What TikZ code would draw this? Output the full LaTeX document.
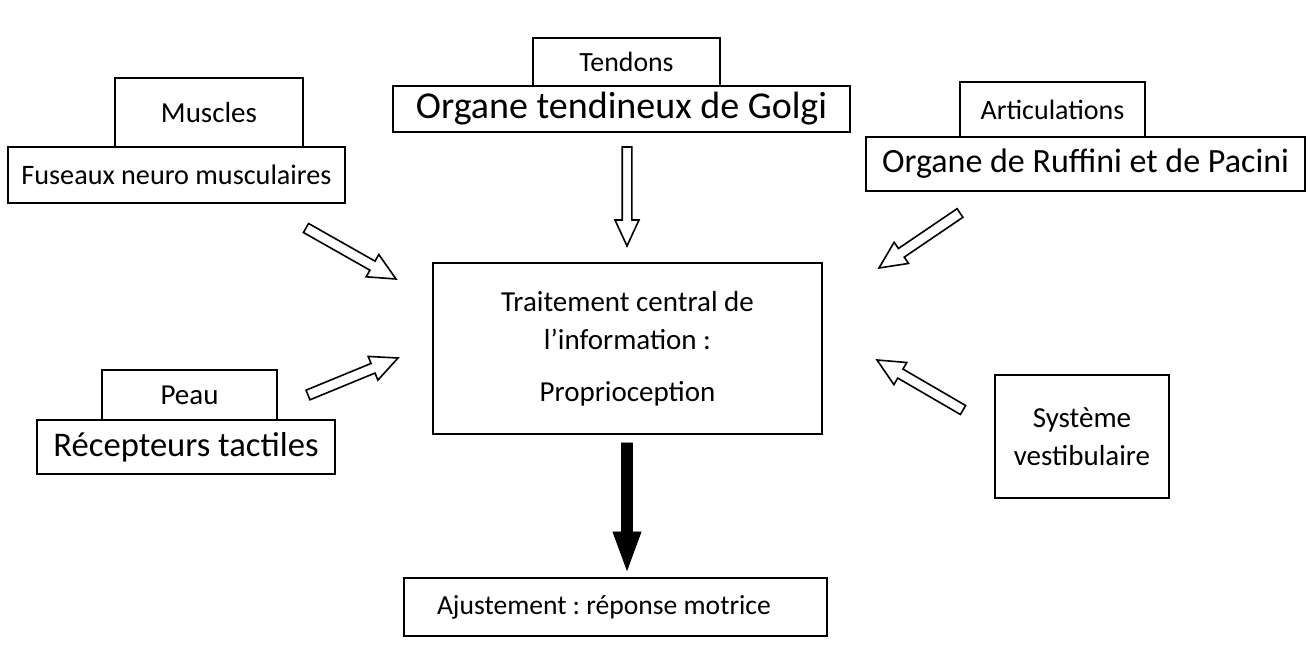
\documentclass[tikz,border=0pt]{standalone}
\usepackage{fontspec}
\setmainfont{Carlito}
\usetikzlibrary{calc}
\tikzset{
  box/.style={draw=black, line width=0.8pt, rectangle, inner sep=0pt, align=center,
    font=\fontsize{14.4}{19}\selectfont\frenchspacing},
  fs/.style={font=\fontsize{#1}{19}\selectfont\frenchspacing},
  hollow/.style={draw=black, fill=white, line width=0.8pt, line join=miter},
  solidarrow/.style={draw=black, fill=black, line width=0.4pt}
}
\newcommand\blockarrow[6]{% style, tail, tip, half shaft, half head, head length
  \coordinate (hb) at ($(#3)!#6!(#2)$);
  \draw[#1] ($(#2)!#4!90:(#3)$) -- ($(hb)!#4!90:(#3)$) -- ($(hb)!#5!90:(#3)$) -- (#3)
    -- ($(hb)!#5!-90:(#3)$) -- ($(hb)!#4!-90:(#3)$) -- ($(#2)!#4!-90:(#3)$) -- cycle;}
\begin{document}
\begin{tikzpicture}[x=0.5pt,y=-0.5pt]
\useasboundingbox (0,0) rectangle (1314,651);
\fill[white] (0,0) rectangle (1314,651);
% Muscles
\node[box, fs=14.5, minimum width=94pt, minimum height=34.5pt] (muscles) at (209,112.5) {Muscles};
\node[box, fs=14.1, fill=white, minimum width=168.5pt, minimum height=28pt] (fuseaux) at (176.5,175) {Fuseaux neuro musculaires};
% Tendons
\node[box, fs=13.9, minimum width=93.5pt, minimum height=24pt] (tendons) at (626.5,62) {Tendons};
\node[box, fs=19, fill=white, minimum width=228.5pt, minimum height=23pt] (golgi) at (621.5,109) {Organe tendineux de Golgi};
% Articulations
\node[box, fs=14, minimum width=92.5pt, minimum height=27.5pt] (artic) at (1052.5,109.5) {Articulations};
\node[box, fs=17, fill=white, minimum width=219.5pt, minimum height=27pt] (ruffini) at (1085.5,164) {Organe de Ruffini et de Pacini};
% Peau
\node[box, fs=14.5, minimum width=87.5pt, minimum height=25pt] (peau) at (189.5,395) {Peau};
\node[box, fs=17.3, fill=white, minimum width=149pt, minimum height=27pt] (recept) at (186,447) {Récepteurs tactiles};
% Vestibulaire
\node[box, fs=14.5, minimum width=87pt, minimum height=61.5pt] (vestib) at (1082,436.5) {Système\\vestibulaire};
% Central
\node[box, fs=14.5, minimum width=194.5pt, minimum height=85.5pt] (central) at (627.5,348.5) {Traitement central de\\l’information :\\[7pt]Proprioception};
% Ajustement
\node[box, fs=13.8, minimum height=29pt, inner xsep=16.5pt] (ajust) at (615.5,607) {\makebox[178.5pt][l]{Ajustement : réponse motrice}};
% arrows
\coordinate (mT) at (306,228); \coordinate (mH) at (396,279);
\coordinate (pT) at (308,395); \coordinate (pH) at (398,358);
\coordinate (aT) at (960,213); \coordinate (aH) at (879,268);
\coordinate (vT) at (963,410); \coordinate (vH) at (877,360);
\coordinate (gT) at (627,147); \coordinate (gH) at (627,246);
\coordinate (cT) at (627,443); \coordinate (cH) at (627,570);
\blockarrow{hollow}{mT}{mH}{2.6pt}{6.4pt}{13.5pt}
\blockarrow{hollow}{pT}{pH}{2.6pt}{6.4pt}{13.5pt}
\blockarrow{hollow}{aT}{aH}{2.6pt}{6.4pt}{13.5pt}
\blockarrow{hollow}{vT}{vH}{2.6pt}{6.4pt}{13.5pt}
\blockarrow{hollow}{gT}{gH}{2.4pt}{6pt}{13pt}
\blockarrow{solidarrow}{cT}{cH}{2.7pt}{7pt}{19pt}
\end{tikzpicture}
\end{document}
